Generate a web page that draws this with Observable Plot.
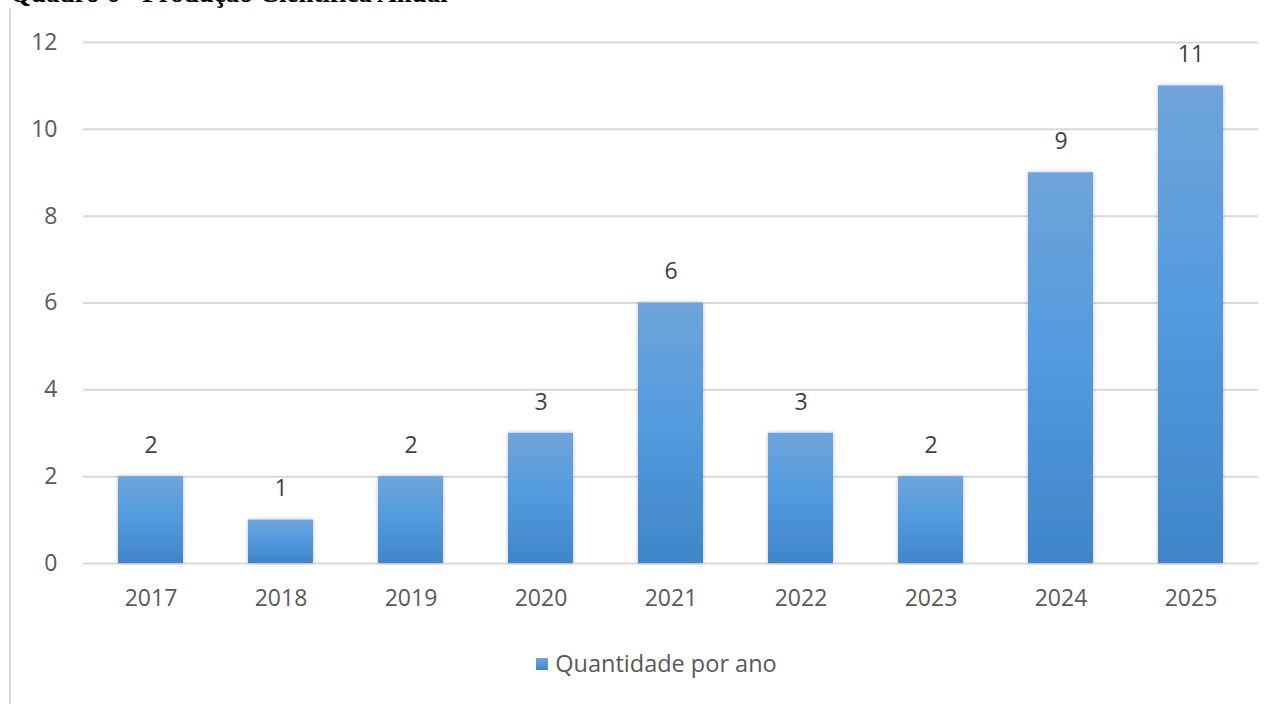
<!DOCTYPE html>
<html><head><meta charset="utf-8">
<script src="https://cdn.jsdelivr.net/npm/d3@7"></script>
<script src="https://cdn.jsdelivr.net/npm/@observablehq/plot@0.6"></script>
<style>
html,body{margin:0;padding:0;background:#fff;width:1279px;height:704px;overflow:hidden;position:relative;}
#title{position:absolute;left:10px;top:-22px;font-family:"Liberation Serif",serif;font-weight:bold;font-size:27px;line-height:31px;color:#000;white-space:nowrap;}
#border{position:absolute;left:9px;top:8px;width:2px;height:700px;background:#d9d9d9;}
#chart{position:absolute;left:0;top:0;}
#legend{position:absolute;left:17px;width:1279px;top:647px;text-align:center;font-family:"Open Sans",sans-serif;font-size:23.5px;color:#595959;}
#legend span.sw{display:inline-block;width:12px;height:12px;background:linear-gradient(#6fa4d9,#3f86c9);margin-right:7px;vertical-align:middle;position:relative;top:-2px;}
</style></head>
<body>
<div id="title">Quadro 6 - Produção Científica Anual</div>
<div id="border"></div>
<div id="chart"></div>
<div id="legend"><span class="sw"></span>Quantidade por ano</div>
<script>
const years = ["2017","2018","2019","2020","2021","2022","2023","2024","2025"];
const counts = [2,1,2,3,6,3,2,9,11];
const yTicks = [0,2,4,6,8,10,12];
const seriesName = "Quantidade por ano";

const data = years.map((y,i)=>({year:y, value:counts[i]}));

const chart = Plot.plot({
  width: 1279,
  height: 640,
  marginLeft: 83,
  marginRight: 21,
  marginTop: 42,
  marginBottom: 77,
  style: {fontFamily: "'Open Sans', sans-serif", fontSize: "23px", color: "#595959", background: "transparent"},
  x: {domain: years, paddingInner: 0.5, paddingOuter: 0.25, label: null, tickSize: 0, tickPadding: 26},
  y: {domain: [0,12], ticks: yTicks, label: null, tickSize: 0, tickPadding: 26},
  marks: [
    Plot.gridY(yTicks, {stroke: "#d9d9d9", strokeOpacity: 1, strokeWidth: 2}),
    Plot.barY(data, {x: "year", y: "value", fill: "url(#barGrad)"}),
    Plot.text(data, {x: "year", y: "value", text: d => String(d.value), dy: -31, fill: "#404040", fontSize: 23})
  ]
});
const svg = d3.select(chart);
const defs = svg.insert("defs", ":first-child");
const g = defs.append("linearGradient").attr("id","barGrad").attr("x1",0).attr("y1",0).attr("x2",0).attr("y2",1);
g.append("stop").attr("offset","0%").attr("stop-color","#6fa4d9");
g.append("stop").attr("offset","45%").attr("stop-color","#549bdf");
g.append("stop").attr("offset","100%").attr("stop-color","#3f86c9");
const f = defs.append("filter").attr("id","shadow").attr("x","-20%").attr("y","-20%").attr("width","140%").attr("height","140%");
f.append("feDropShadow").attr("dx",0).attr("dy",0).attr("stdDeviation",2).attr("flood-color","#000").attr("flood-opacity",0.25);
svg.selectAll("g[aria-label='bar'] rect").attr("filter","url(#shadow)");
document.getElementById("chart").appendChild(chart);
</script>
</body></html>
